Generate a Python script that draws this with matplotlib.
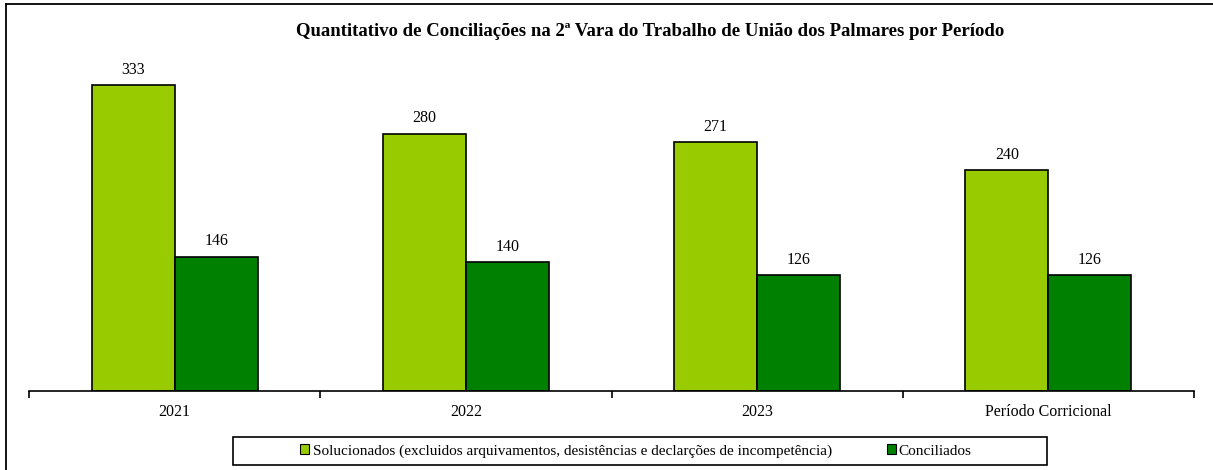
import numpy as np
import matplotlib
matplotlib.use("Agg")
import matplotlib.pyplot as plt
from matplotlib.lines import Line2D
from matplotlib.patches import Rectangle, Patch

periodos = ["2021", "2022", "2023", "Período Corricional"]
solucionados = [333, 280, 271, 240]
conciliados = [146, 140, 126, 126]

nome_sol = "Solucionados (excluidos arquivamentos, desistências e declarções de incompetência)"
nome_con = "Conciliados"
titulo = "Quantitativo de Conciliações na 2ª Vara do Trabalho de União dos Palmares por Período"

cor_sol = "#99CC00"
cor_con = "#008000"

plt.rcParams["font.family"] = ["Liberation Serif", "DejaVu Serif"]

W, H = 1213, 470
fig = plt.figure(figsize=(W / 100, H / 100), dpi=100)

# plot area in pixels: x 29..1194, baseline at y=391, top at y=45
ax = fig.add_axes([29 / W, 1 - 391 / H, (1194 - 29) / W, (391 - 45) / H])

x = np.arange(len(periodos))
w = 0.285
b1 = ax.bar(x - w / 2, solucionados, w, color=cor_sol, edgecolor="black", linewidth=1.2)
b2 = ax.bar(x + w / 2, conciliados, w, color=cor_con, edgecolor="black", linewidth=1.2)

for bars, vals in ((b1, solucionados), (b2, conciliados)):
    for r, v in zip(bars, vals):
        ax.text(r.get_x() + r.get_width() / 2, v + 8, str(v),
                ha="center", va="bottom", fontsize=11.5)

ax.set_xlim(-0.5, len(periodos) - 0.5)
ax.set_ylim(0, 346 / 0.919)
ax.set_xticks(x)
ax.set_xticklabels(periodos, fontsize=11.5)
ax.set_xticks(np.arange(-0.5, len(periodos)), minor=True)
ax.tick_params(axis="x", which="major", length=0, pad=9)
ax.tick_params(axis="x", which="minor", length=5, width=1.2, direction="out")
ax.set_yticks([])
for s in ("left", "right", "top"):
    ax.spines[s].set_visible(False)
ax.spines["bottom"].set_linewidth(1.2)

fig.text(650 / W, 1 - 31 / H, titulo, ha="center", va="center",
         fontsize=13.5, fontweight="bold")

# outer frame (only top and left visible in the crop)
fig.add_artist(Line2D([6 / W, 1], [1 - 4 / H, 1 - 4 / H], color="black", lw=1.3))
fig.add_artist(Line2D([6 / W, 6 / W], [1 - 4 / H, 0], color="black", lw=1.3))

# legend box
fig.add_artist(Rectangle((233 / W, 1 - 465 / H), (1047 - 233) / W, 28 / H,
                         transform=fig.transFigure, fill=False,
                         edgecolor="black", lw=1.2))
handles = [Patch(facecolor=cor_sol, edgecolor="black", lw=0.8),
           Patch(facecolor=cor_con, edgecolor="black", lw=0.8)]
fig.legend(handles, [nome_sol, nome_con], loc="center",
           bbox_to_anchor=(636 / W, 1 - 451 / H), ncol=2, frameon=False,
           fontsize=11, handlelength=0.6, handleheight=0.6,
           handletextpad=0.2, columnspacing=3.6)

fig.savefig("out.png", dpi=100)
